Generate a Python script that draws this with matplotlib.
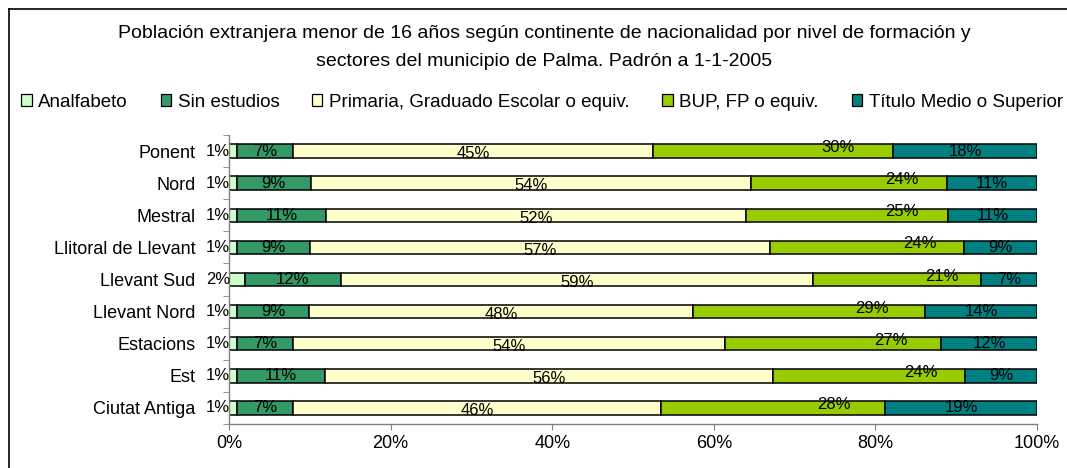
import numpy as np
import matplotlib
matplotlib.use("Agg")
import matplotlib.pyplot as plt
from matplotlib.patches import Patch
from matplotlib.lines import Line2D

plt.rcParams["font.family"] = ["Liberation Sans", "DejaVu Sans"]

sectors = ["Ponent", "Nord", "Mestral", "Llitoral de Llevant", "Llevant Sud",
           "Llevant Nord", "Estacions", "Est", "Ciutat Antiga"]
levels = ["Analfabeto", "Sin estudios", "Primaria, Graduado Escolar o equiv.",
          "BUP, FP o equiv.", "Título Medio o Superior"]

analfabeto = [1, 1, 1, 1, 2, 1, 1, 1, 1]
sin_estudios = [7, 9, 11, 9, 12, 9, 7, 11, 7]
primaria = [45, 54, 52, 57, 59, 48, 54, 56, 46]
bup_fp = [30, 24, 25, 24, 21, 29, 27, 24, 28]
titulo = [18, 11, 11, 9, 7, 14, 12, 9, 19]

colors = ["#CCFFCC", "#339966", "#FFFFCC", "#99CC00", "#008080"]
title = ("Población extranjera menor de 16 años según continente de nacionalidad "
         "por nivel de formación y\nsectores del municipio de Palma. Padrón a 1-1-2005")

series = np.array([analfabeto, sin_estudios, primaria, bup_fp, titulo], dtype=float)
shares = series / series.sum(axis=0) * 100   # 100 % stacked, like the spreadsheet

fs = 13
fig = plt.figure(figsize=(10.67, 4.68), dpi=100)
ax = fig.add_axes([0.2146, 0.094, 0.7573, 0.6175])

y = np.arange(len(sectors))
left = np.zeros(len(sectors))
# where each series' value label sits inside its segment, plus a small nudge (pt)
label_frac = [0.5, 0.5, 0.5, 0.77, 0.5]
label_dy = [0, 0, -2, 2.5, 0]
for k, (vals, raw, col) in enumerate(zip(shares, series, colors)):
    ax.barh(y, vals, left=left, height=0.42, color=col, edgecolor="black",
            linewidth=1.1, label=levels[k])
    for i in range(len(sectors)):
        if k == 0:
            xy, dx = (0, y[i]), -8
        else:
            xy, dx = (left[i] + label_frac[k] * vals[i], y[i]), 0
        ax.annotate(f"{raw[i]:.0f}%", xy=xy, xytext=(dx, label_dy[k]),
                    textcoords="offset points", ha="center", va="center",
                    fontsize=12, color="black")
    left += vals

ax.set_xlim(0, 100)
ax.set_ylim(len(sectors) - 0.5, -0.5)
ax.set_xticks(np.arange(0, 101, 20))
ax.set_xticklabels([f"{t}%" for t in range(0, 101, 20)])
ax.set_yticks(y)
ax.set_yticklabels(sectors)
ax.set_yticks(np.arange(-0.5, len(sectors), 1), minor=True)
ax.tick_params(axis="y", which="major", length=0, pad=24, labelsize=fs)
ax.tick_params(axis="y", which="minor", length=4, color="#808080", direction="out")
ax.tick_params(axis="x", length=4, color="#808080", pad=4, labelsize=fs)
for s in ("top", "right"):
    ax.spines[s].set_visible(False)
for s in ("left", "bottom"):
    ax.spines[s].set_color("#808080")
    ax.spines[s].set_linewidth(1.0)

fig.text(0.51, 0.8985, title, ha="center", va="center", fontsize=14,
         linespacing=1.85)

handles = [Patch(facecolor=c, edgecolor="black", linewidth=0.9) for c in colors]
fig.legend(handles, levels, loc="center", bbox_to_anchor=(0.508, 0.782), ncol=5,
           frameon=False, fontsize=13.5, handlelength=0.55, handleheight=0.55,
           handletextpad=0.35, columnspacing=1.75)

# chart area frame, clipped at the right and bottom edges
fig.add_artist(Line2D([0.0085, 1.0], [0.981, 0.981], transform=fig.transFigure,
                      color="black", linewidth=1.2))
fig.add_artist(Line2D([0.0085, 0.0085], [0.0, 0.981], transform=fig.transFigure,
                      color="black", linewidth=1.2))

fig.savefig("out.png", dpi=100)
